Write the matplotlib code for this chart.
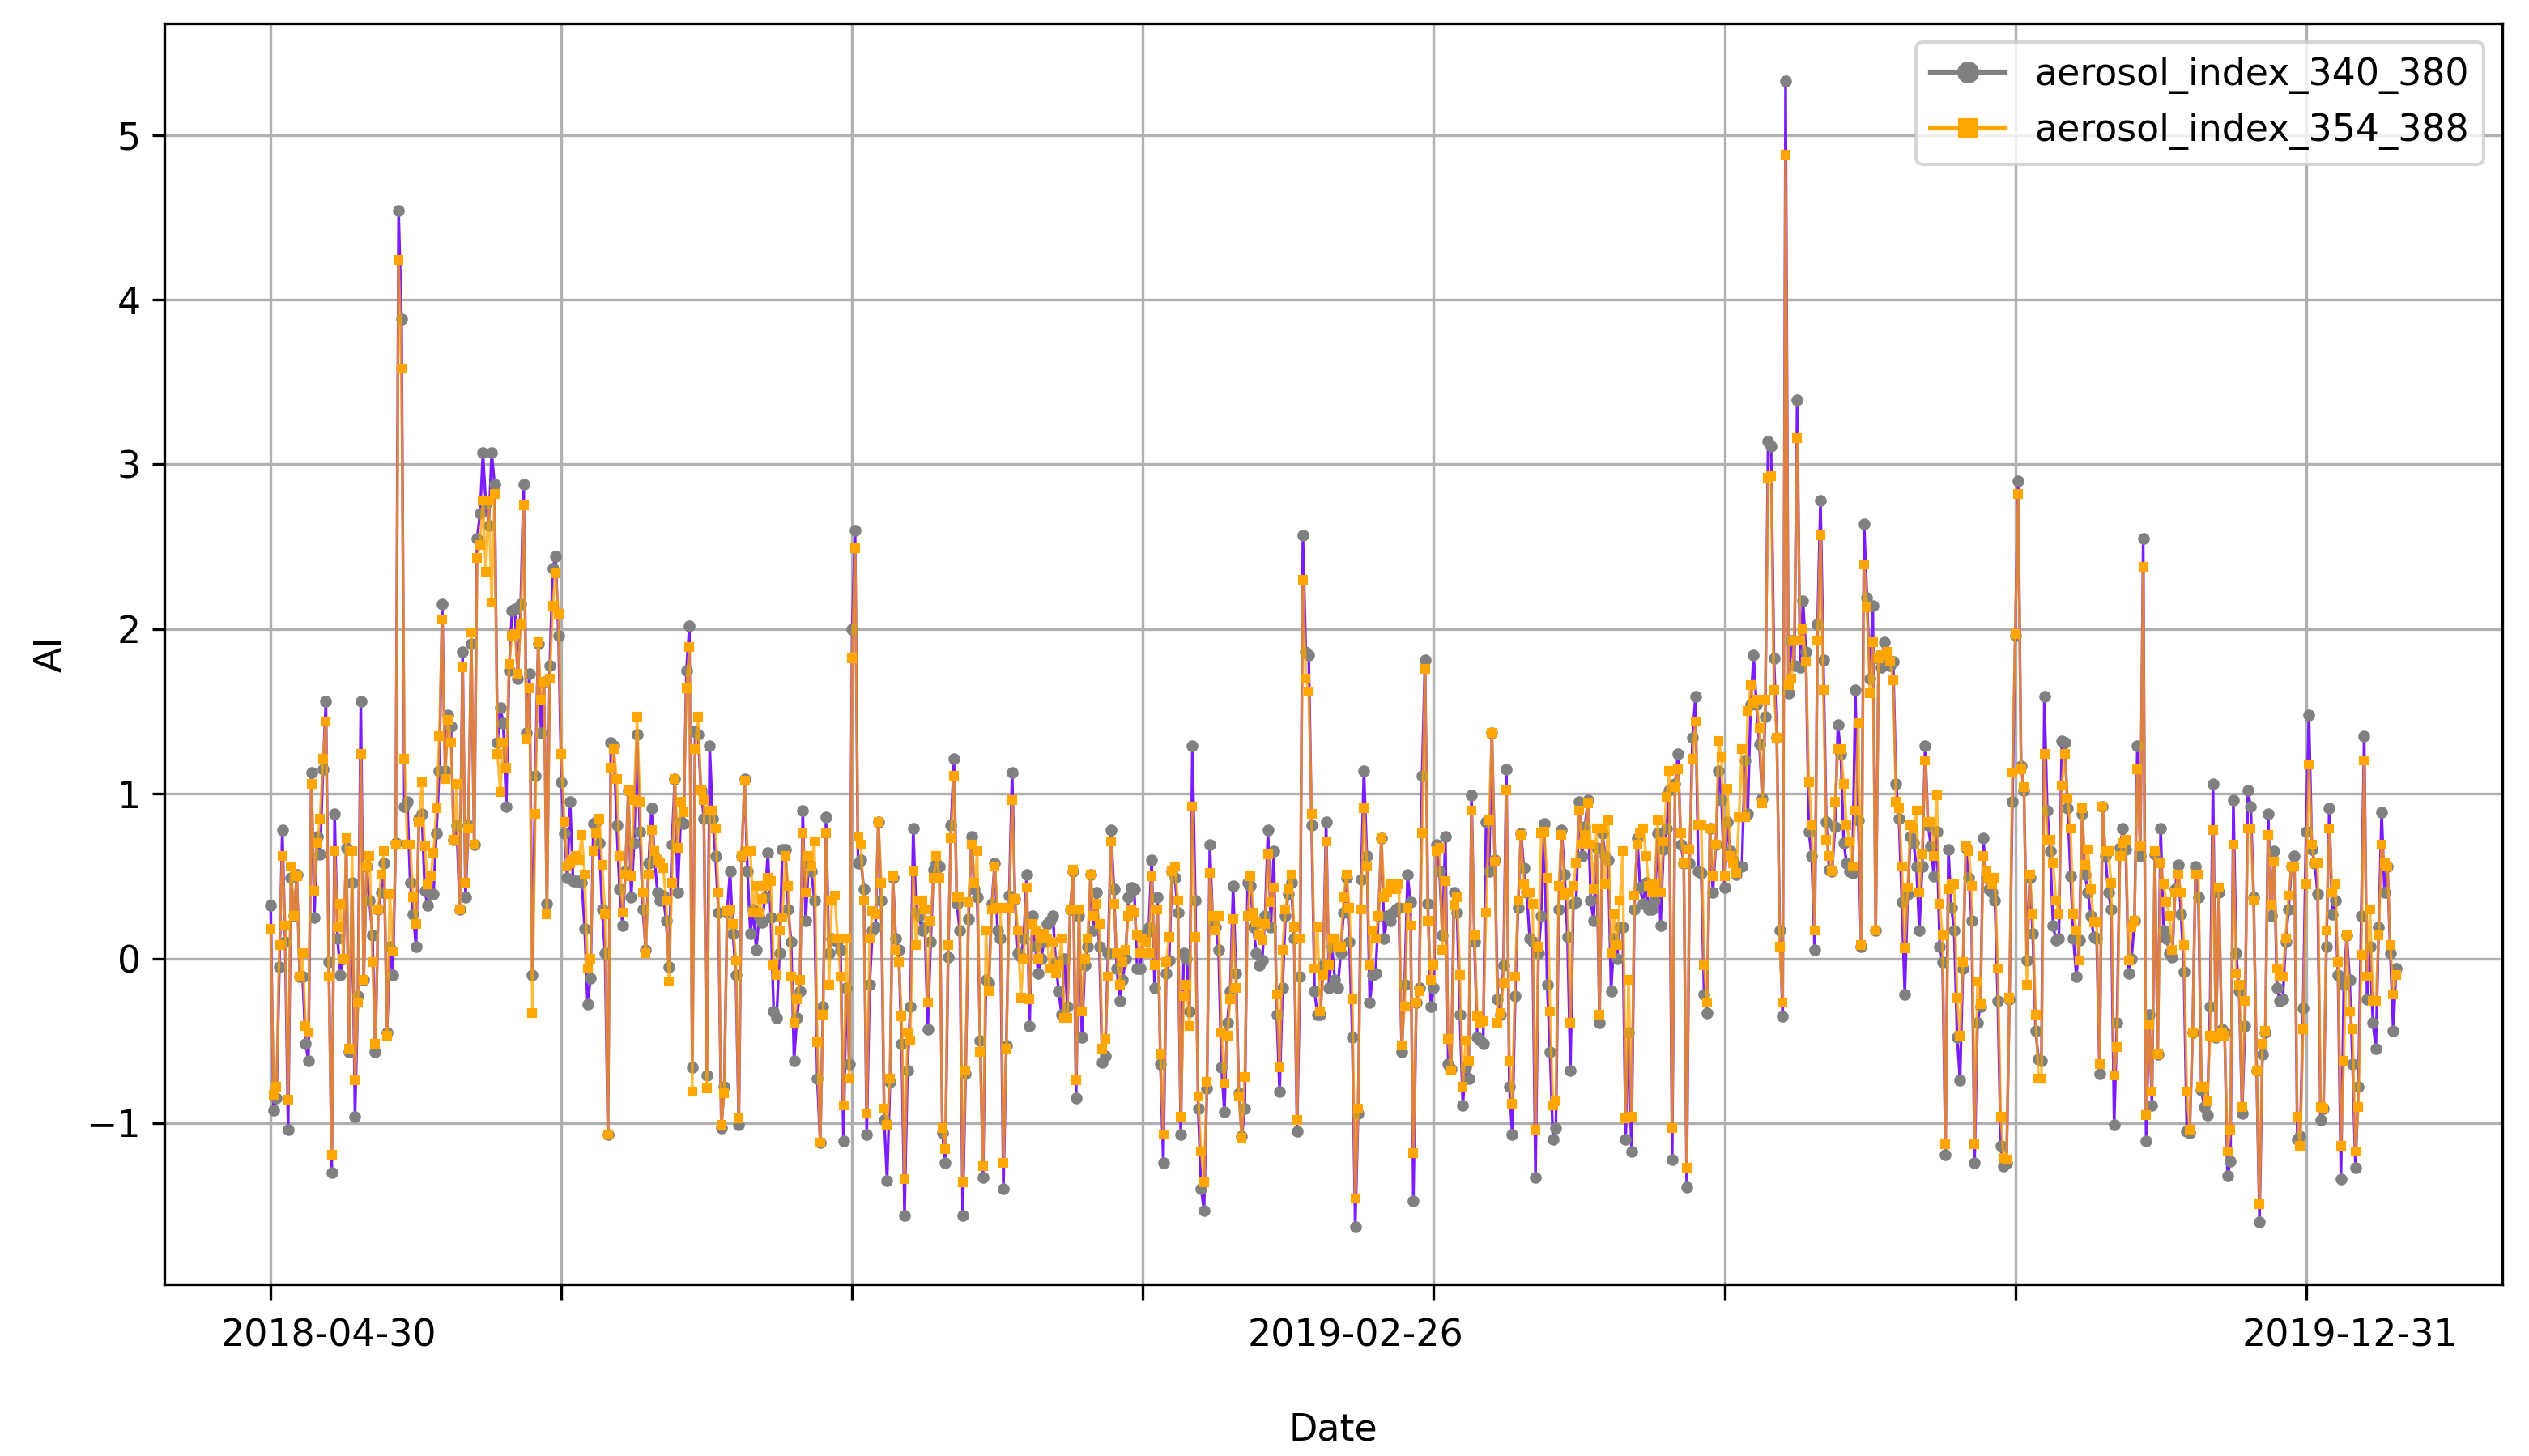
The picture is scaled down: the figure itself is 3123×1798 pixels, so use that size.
import numpy as np
import matplotlib
matplotlib.use("Agg")
import matplotlib.pyplot as plt
from matplotlib.lines import Line2D

# AI values, one sample per position on the x axis
ai_340_380 = [
    0.32, -0.92, -0.85, -0.05, 0.78, 0.10, -1.04, 0.49, 0.26, 0.51,
    -0.11, -0.11, -0.52, -0.62, 1.13, 0.25, 0.74, 0.63, 1.15, 1.56,
    -0.02, -1.30, 0.88, 0.12, -0.10, 0.00, 0.67, -0.57, 0.46, -0.96,
    -0.23, 1.56, -0.13, 0.56, 0.35, 0.14, -0.57, 0.30, 0.40, 0.58,
    -0.45, 0.07, -0.10, 0.70, 4.54, 3.88, 0.92, 0.95, 0.46, 0.27,
    0.07, 0.85, 0.88, 0.41, 0.32, 0.39, 0.39, 0.76, 1.14, 2.15,
    1.14, 1.48, 1.41, 0.72, 0.81, 0.30, 1.86, 0.37, 0.81, 1.91,
    0.69, 2.55, 2.70, 3.07, 2.76, 2.63, 3.07, 2.88, 1.31, 1.52,
    1.43, 0.92, 1.75, 2.11, 2.12, 1.70, 2.15, 2.88, 1.37,
    1.73, -0.10, 1.11, 1.91, 1.37, 1.68, 0.33, 1.78, 2.37, 2.44,
    1.96, 1.07, 0.76, 0.49, 0.95, 0.47, 0.47,
    0.47, 0.46, 0.18, -0.28, -0.12, 0.82, 0.83, 0.70, 0.30, 0.03,
    -1.07, 1.31, 1.29, 0.81, 0.42, 0.20, 0.53, 1.02, 0.37, 0.70,
    1.36, 0.77, 0.30, 0.05, 0.58, 0.91, 0.62, 0.40, 0.35, 0.38,
    0.23, -0.05, 0.69, 1.09, 0.40, 0.83, 0.82, 1.75, 2.02, -0.66,
    1.38, 1.36, 1.02, 0.85, -0.71, 1.29, 0.85, 0.62, 0.28, -1.03,
    -0.78, 0.28, 0.53, 0.15, -0.10, -1.01, 0.62, 1.09, 0.53, 0.15,
    0.30, 0.05, 0.26, 0.22,
    0.37, 0.64, 0.25, -0.32, -0.36, 0.03, 0.66, 0.66, 0.30, 0.10, -0.62,
    -0.36, -0.20, 0.90, 0.23, 0.58, 0.53, 0.35, -0.73, -1.12, -0.29,
    0.86, 0.03, 0.12, 0.11, 0.10, 0.05, -1.11, -0.18, -0.64, 2.00,
    2.60, 0.58, 0.60, 0.42, -1.07, -0.16, 0.17, 0.19, 0.83, 0.35,
    -0.98, -1.35, -0.75, 0.49, 0.12, 0.05, -0.52, -1.56, -0.68, -0.29,
    0.79, 0.28, 0.26, 0.17, 0.19, -0.43, 0.10, 0.54, 0.58, 0.56,
    -1.06, -1.24, 0.01, 0.81, 1.21, 0.33, 0.17, -1.56, -0.70, 0.24,
    0.74, 0.42, 0.37, -0.50, -1.33, -0.13, -0.15, 0.33, 0.58, 0.17,
    0.12, -1.40, -0.53, 0.38, 1.13, 0.36, 0.03, 0.01, 0.12, 0.51,
    -0.41, 0.26, 0.07, -0.09, 0.00, 0.10,
    0.21, 0.23, 0.26, -0.02, -0.20, -0.34,
    0.00, -0.29, 0.30, 0.53, -0.85, 0.26, -0.48, -0.04, 0.07, 0.51,
    0.17, 0.40, 0.07, -0.63, -0.59, 0.03, 0.78, 0.42, -0.06, -0.26,
    -0.13, 0.00, 0.37, 0.43, 0.42, -0.06, -0.06, 0.13, 0.15,
    0.19, 0.60, -0.18, 0.37, -0.64, -1.24, -0.09, -0.01, 0.53, 0.49,
    0.28, -1.07, 0.03, 0.00, -0.32, 1.29, 0.35, -0.91, -1.40, -1.53,
    -0.79, 0.69, 0.23, 0.19, 0.05, -0.66, -0.93, -0.39, -0.20, 0.44,
    -0.09, -0.82, -1.08, -0.91, 0.46, 0.44, 0.19, 0.03, -0.04, -0.01,
    0.26, 0.78, 0.19, 0.65, -0.34, -0.81, -0.18, 0.26, 0.39, 0.46,
    0.12, -1.05, -0.11, 2.57, 1.86, 1.84, 0.81, -0.20, -0.34, -0.34,
    -0.04, 0.83, -0.18, 0.07,
    -0.13, -0.18, 0.03, 0.28, 0.49, 0.10, -0.48, -1.63, -0.94, 0.48,
    1.14, 0.62, -0.27, -0.10, -0.09, 0.26, 0.73, 0.12, 0.26, 0.23,
    0.28, 0.30,
    0.31, -0.57, -0.16, 0.51, 0.34, -1.47, -0.27, -0.18, 1.11, 1.81,
    0.33, -0.29, -0.18, 0.69, 0.53, 0.14, 0.74, -0.64, -0.67, 0.40,
    0.28, -0.34, -0.89, -0.66, -0.73, 0.99, 0.10, -0.48, -0.50, -0.52,
    0.83, 0.53, 1.37, 0.60, -0.25, -0.34, -0.04, 1.15, -0.78, -1.07,
    -0.23, 0.31, 0.76, 0.55,
    0.40, 0.12, 0.10, -1.33, 0.03, 0.26, 0.82, -0.16, -0.57, -1.10,
    -1.03, 0.30, 0.78, 0.51, 0.13, -0.68, 0.33, 0.34, 0.95, 0.62, 0.80,
    0.96, 0.35, 0.23, 0.67, -0.39,
    0.76, 0.62, 0.60, -0.20, 0.12, 0.00, 0.19, 0.19, -1.10, -0.45,
    -1.17, 0.30, 0.73, 0.43, 0.33, 0.46, 0.30, 0.30, 0.35,
    0.76, 0.20, 0.66, 0.79, 1.02, -1.22, 1.06, 1.24, 0.69, 0.58,
    -1.39, 0.58, 1.34, 1.59, 0.53, 0.52, -0.22, -0.33, 0.79, 0.40,
    0.69, 1.14, 0.96, 0.43, 0.83, 0.65, 0.60,
    0.51, 0.56, 0.56, 1.20, 0.88, 1.54, 1.84, 1.54, 1.30,
    0.97, 1.47, 3.14, 3.11, 1.82, 1.34, 0.17, -0.35, 5.33, 1.61,
    1.93, 1.78, 3.39, 1.77, 2.17, 1.86, 0.77, 0.62, 0.05, 2.03,
    2.78, 1.81, 0.83, 0.54, 0.53, 0.80,
    1.42, 1.24, 0.70, 0.58, 0.53, 0.52, 1.63, 0.84, 0.07, 2.64,
    2.19, 1.70, 2.14, 0.17, 1.82, 1.77, 1.92, 1.80, 1.78,
    1.80, 1.06, 0.85, 0.34, -0.22, 0.39, 0.74, 0.70, 0.56, 0.17,
    0.56, 1.29, 0.81, 0.68, 0.50,
    0.77, 0.07, -0.02, -1.19, 0.66, 0.31, 0.17, -0.48, -0.74, -0.06,
    0.67, 0.49, 0.23, -1.24, -0.39, -0.29, 0.73, 0.49, 0.42, 0.40,
    0.35, -0.26, -1.14, -1.26, -1.24, -0.25, 0.95, 1.96, 2.90, 1.17,
    1.02, -0.01, 0.49, 0.15, -0.44, -0.61, -0.62, 1.59, 0.90, 0.65,
    0.20, 0.11, 0.12, 1.32, 1.31, 0.91, 0.50, 0.12, -0.11, 0.11,
    0.88, 0.51, 0.40, 0.26, 0.13, 0.12, -0.70, 0.92, 0.62, 0.40,
    0.30, -1.01, -0.39, 0.67, 0.79, 0.66, -0.09, 0.00, 0.23, 1.29,
    0.62, 2.55, -1.11, -0.34, -0.89, 0.63, -0.58, 0.79, 0.17, 0.12,
    0.03, 0.01, 0.42, 0.57, 0.27, -0.08, -1.05, -1.06, -0.45, 0.56,
    0.37, -0.80, -0.90, -0.95, -0.29, 1.06, -0.48, 0.40, -0.43, -0.45,
    -1.32, -1.23, 0.96, 0.03, -0.20, -0.94, -0.41, 1.02, 0.92, 0.37,
    -0.68, -1.60, -0.58, -0.45, 0.88, 0.26, 0.65, -0.18, -0.26, -0.25,
    0.10, 0.30, 0.56, 0.62, -1.10, -1.08, -0.30, 0.77, 1.48, 0.66,
    0.58, 0.39, -0.98, -0.91, 0.07, 0.91, 0.27, 0.35, -0.10, -1.34,
    -0.16, 0.14, -0.13, -0.64, -1.27, -0.78, 0.26, 1.35, -0.25, 0.07,
    -0.39, -0.55, 0.19, 0.89, 0.40, 0.56, 0.03, -0.44, -0.06,
]

ai_354_388 = [
    0.18, -0.83, -0.78, 0.08, 0.62, 0.20, -0.86, 0.56, 0.26, 0.50,
    -0.11, 0.03, -0.41, -0.45, 1.06, 0.41, 0.70, 0.85, 1.21, 1.44,
    -0.11, -1.19, 0.65, 0.19, 0.33, 0.00, 0.73, -0.55, 0.65, -0.74,
    -0.27, 1.24, -0.13, 0.56, 0.62, -0.02, -0.52, 0.30, 0.51, 0.65,
    -0.47, 0.39, 0.04, 0.69, 4.24, 3.58, 1.21, 0.69, 0.69, 0.37,
    0.21, 0.83, 1.07, 0.68, 0.45, 0.50, 0.64, 0.91, 1.35, 2.06,
    1.09, 1.45, 1.31, 0.72, 1.06, 0.30, 1.77, 0.46, 0.79, 1.98,
    0.69, 2.43, 2.51, 2.78, 2.35, 2.78, 2.16, 2.82, 1.24, 1.01,
    1.31, 1.16, 1.79, 1.96, 1.97, 1.73, 2.03, 2.75, 1.33,
    1.64, -0.33, 0.88, 1.92, 1.57, 1.68, 0.27, 1.70, 2.14, 2.34,
    2.09, 1.24, 0.83, 0.56, 0.58, 0.60, 0.62,
    0.60, 0.75, 0.51, -0.06, 0.00, 0.65, 0.76, 0.85, 0.57, 0.27,
    -1.07, 1.16, 1.27, 1.09, 0.62, 0.28, 0.51, 1.02, 0.50, 0.96,
    1.47, 0.95, 0.40, 0.03, 0.51, 0.78, 0.65, 0.60, 0.58, 0.55,
    0.35, -0.14, 0.46, 1.09, 0.67, 0.95, 0.89, 1.64, 1.89, -0.81,
    1.27, 1.47, 1.02, 0.96, -0.79, 0.90, 0.90, 0.79, 0.40, -1.01,
    -0.82, 0.29, 0.30, 0.21, -0.01, -0.97, 0.62, 1.08, 0.65, 0.65,
    0.28, 0.44, 0.28, 0.36,
    0.44, 0.49, 0.47, -0.04, -0.10, 0.17, 0.25, 0.62, 0.44, -0.11, -0.39,
    -0.25, -0.13, 0.76, 0.40, 0.62, 0.56, 0.71, -0.51, -1.12, -0.34,
    0.76, -0.16, 0.35, 0.38, 0.12, -0.11, -0.89, 0.12, -0.73, 1.82,
    2.49, 0.74, 0.69, 0.35, -0.94, 0.12, 0.29, 0.27, 0.83, 0.46,
    -0.91, -1.01, -0.73, 0.50, 0.05, -0.02, -0.35, -1.34, -0.45, -0.50,
    0.53, 0.08, 0.35, 0.35, 0.30, -0.27, 0.23, 0.49, 0.62, 0.49,
    -1.03, -1.16, 0.08, 0.73, 1.11, 0.37, 0.37, -1.36, -0.68, 0.34,
    0.69, 0.46, 0.65, -0.57, -1.26, 0.17, -0.20, 0.30, 0.56, 0.31,
    0.31, -1.24, -0.55, 0.31, 0.96, 0.36, 0.17, -0.24, 0.00, 0.43,
    -0.25, 0.21, 0.17, 0.00, 0.12, 0.15,
    0.12, -0.06, 0.10, -0.09, -0.04, 0.12,
    -0.36, -0.36, 0.30, 0.54, -0.74, 0.30, -0.32, 0.00, 0.12, 0.51,
    0.26, 0.33, 0.21, -0.55, -0.49, -0.11, 0.71, 0.33, 0.03, -0.16,
    -0.02, 0.05, 0.26, 0.30, 0.28, 0.14, 0.03, 0.12, 0.10,
    0.03, 0.50, -0.04, 0.30, -0.58, -1.07, -0.02, 0.13, 0.53, 0.56,
    0.35, -0.96, -0.23, -0.16, -0.41, 0.92, 0.13, -0.84, -1.17, -1.36,
    -0.75, 0.52, 0.26, 0.17, 0.26, -0.45, -0.76, -0.47, -0.25, 0.24,
    -0.18, -0.84, -1.09, -0.72, 0.26, 0.50, 0.28, 0.22, 0.14, 0.11,
    0.21, 0.63, 0.34, 0.43, -0.22, -0.66, 0.05, 0.30, 0.42, 0.51,
    0.19, -0.98, 0.12, 2.30, 1.70, 1.62, 0.88, -0.06, 0.19, -0.32,
    -0.10, 0.71, -0.04, 0.12,
    0.12, 0.07, 0.07, 0.37, 0.51, 0.31, -0.25, -1.46, -0.91, 0.30,
    0.91, 0.56, -0.04, 0.17, 0.12, 0.26, 0.73, 0.37, 0.40, 0.45,
    0.45, 0.42,
    0.45, -0.53, -0.29, 0.31, 0.20, -1.18, -0.27, -0.20, 0.76, 1.76,
    0.23, -0.13, -0.04, 0.65, 0.67, 0.05, 0.47, -0.49, -0.68, 0.32,
    0.37, -0.10, -0.78, -0.50, -0.62, 0.90, 0.14, -0.35, -0.39, -0.38,
    0.28, 0.84, 1.37, 0.59, -0.39, -0.33, -0.15, 1.02, -0.62, -0.88,
    -0.11, 0.35, 0.75, 0.45,
    0.40, 0.40, 0.33, -1.04, 0.07, 0.76, 0.77, 0.49, -0.32, -0.89,
    -0.87, 0.44, 0.75, 0.38, 0.40, -0.39, 0.44, 0.58, 0.90, 0.69, 0.75,
    0.94, 0.69, 0.42, 0.79, -0.34,
    0.79, 0.45, 0.84, 0.03, 0.27, 0.08, 0.35, 0.65, -0.97, -0.13,
    -0.96, 0.38, 0.69, 0.76, 0.79, 0.62, 0.44, 0.40, 0.45,
    0.84, 0.40, 0.71, 0.98, 1.14, -1.03, 1.04, 1.15, 0.76, 0.58,
    -1.27, 0.66, 1.21, 1.44, 0.81, 0.81, -0.04, -0.27, 0.79, 0.50,
    0.69, 1.32, 1.22, 0.50, 1.03, 0.62, 0.58,
    0.52, 0.86, 1.27, 0.86, 1.50, 1.66, 1.55, 1.57, 1.40,
    0.94, 1.57, 2.92, 2.93, 1.63, 1.34, 0.07, -0.27, 4.88, 1.66,
    1.70, 1.93, 3.16, 1.93, 2.00, 1.80, 1.07, 0.81, 0.17, 1.93,
    2.57, 1.63, 0.72, 0.62, 0.53, 0.95,
    1.27, 1.27, 1.06, 0.81, 0.71, 0.56, 0.90, 1.43, 0.08, 2.39,
    2.13, 1.61, 1.92, 0.17, 1.82, 1.84, 1.84, 1.86, 1.80,
    1.69, 0.95, 0.91, 0.56, 0.06, 0.43, 0.81, 0.79, 0.90, 0.40,
    0.63, 1.20, 0.83, 0.83, 0.62,
    0.99, 0.33, 0.14, -1.13, 0.42, 0.45, 0.45, -0.24, -0.47, -0.02,
    0.68, 0.65, 0.44, -1.13, -0.14, -0.28, 0.62, 0.53, 0.49, 0.45,
    0.49, -0.06, -0.96, -1.21, -1.22, -0.24, 1.13, 1.97, 2.82, 1.15,
    1.04, -0.16, 0.51, 0.27, -0.34, -0.73, -0.73, 1.24, 0.72, 0.72,
    0.58, 0.35, 0.27, 1.05, 1.24, 0.97, 0.79, 0.27, 0.17, -0.01,
    0.91, 0.57, 0.66, 0.42, 0.22, 0.22, -0.64, 0.92, 0.65, 0.65,
    0.46, -0.71, -0.54, 0.62, 0.70, 0.72, -0.01, 0.19, 0.23, 1.15,
    0.68, 2.38, -0.95, -0.40, -0.81, 0.65, -0.58, 0.58, 0.45, 0.34,
    0.26, 0.05, 0.40, 0.51, 0.40, 0.08, -0.81, -1.04, -0.45, 0.51,
    0.51, -0.78, -0.78, -0.87, -0.47, 0.78, -0.48, 0.43, -0.45, -0.47,
    -1.17, -1.04, 0.69, -0.09, -0.16, -0.90, -0.26, 0.79, 0.79, 0.35,
    -0.68, -1.49, -0.52, -0.44, 0.75, 0.32, 0.59, -0.06, -0.11, -0.11,
    0.12, 0.38, 0.56, 0.56, -0.96, -1.14, -0.43, 0.45, 1.18, 0.69,
    0.58, 0.58, -0.90, -0.91, 0.17, 0.79, 0.40, 0.45, -0.02, -1.14,
    -0.62, 0.14, -0.32, -0.43, -1.17, -0.90, 0.02, 1.20, -0.11, 0.30,
    -0.26, -0.26, 0.14, 0.69, 0.58, 0.56, 0.08, -0.22, -0.10,
]

# x axis: sample number; gridlines every 100 samples, three date labels
grid_ticks = [0, 100, 200, 300, 400, 500, 600, 700]
date_label_pos = [20, 373, 715]
date_labels = ["2018-04-30", "2019-02-26", "2019-12-31"]

plt.rcParams["font.size"] = 11

fig, ax = plt.subplots(figsize=(3123 / 300, 1798 / 300), dpi=300)
fig.subplots_adjust(left=0.065, right=0.9895, top=0.984, bottom=0.118)

x = np.arange(len(ai_340_380))

# first series: violet connecting line, gray dots
ax.plot(x, ai_340_380, color="#7a1cff", lw=0.8, zorder=2)
ax.plot(x, ai_340_380, "o", color="gray", ms=2.5, zorder=3)
# second series: orange line on top, orange squares
ax.plot(x, ai_354_388, color="orange", lw=0.8, alpha=0.75, zorder=4)
ax.plot(x, ai_354_388, "s", color="orange", ms=2.1, zorder=5)

ax.set_xticks(grid_ticks)
ax.set_xticklabels([])
ax.set_xticks(date_label_pos, minor=True)
ax.set_xticklabels(date_labels, minor=True)
ax.tick_params(axis="x", which="minor", length=0, pad=10)
ax.tick_params(axis="x", which="major", length=4.5)
ax.set_yticks(range(-1, 6))

ax.grid(True)
ax.set_xlabel("Date", labelpad=17)
ax.set_ylabel("AI", labelpad=5)

handles = [
    Line2D([0], [0], color="gray", marker="o", ms=5.5, lw=1.5),
    Line2D([0], [0], color="orange", marker="s", ms=5.0, lw=1.5),
]
ax.legend(handles, ["aerosol_index_340_380", "aerosol_index_354_388"], loc="upper right")

fig.savefig("out.png", dpi=300)
